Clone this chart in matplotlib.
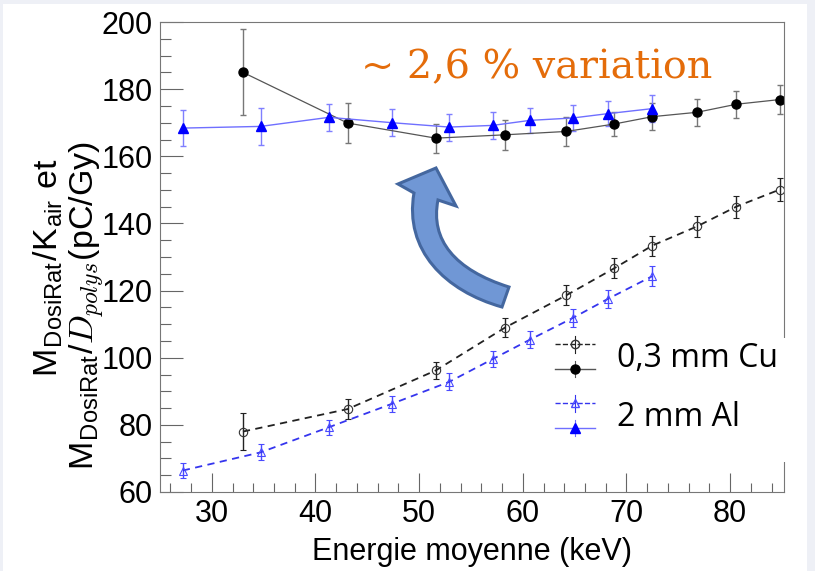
import numpy as np
import matplotlib
matplotlib.use("Agg")
import matplotlib.pyplot as plt
from matplotlib.lines import Line2D
from matplotlib.patches import Rectangle, PathPatch
from matplotlib.path import Path
from matplotlib.legend_handler import HandlerBase
from matplotlib.ticker import MultipleLocator

# 0,3 mm Cu filtration
energy_cu = [33.0, 43.1, 51.6, 58.3, 64.2, 68.8, 72.5, 76.8, 80.6, 84.8]
kair_cu = [185.0, 169.9, 165.4, 166.4, 167.4, 169.6, 171.8, 173.1, 175.5, 176.9]
kair_cu_err = [12.8, 6.0, 4.3, 4.4, 4.3, 3.7, 4.0, 4.0, 4.0, 4.2]
dpoly_cu = [78.0, 84.7, 96.2, 109.0, 118.6, 126.6, 133.4, 139.1, 145.0, 150.1]
dpoly_cu_err = [5.5, 3.0, 2.6, 2.9, 3.0, 3.0, 3.0, 3.2, 3.3, 3.5]

# 2 mm Al filtration
energy_al = [27.2, 34.7, 41.3, 47.4, 52.9, 57.1, 60.7, 64.8, 68.2, 72.5]
kair_al = [168.4, 168.9, 171.6, 170.0, 168.7, 169.2, 170.7, 171.4, 172.7, 174.2]
kair_al_err = [5.4, 5.5, 4.0, 4.0, 4.0, 4.0, 3.8, 4.0, 3.8, 4.0]
dpoly_al = [66.4, 71.8, 79.3, 86.3, 92.8, 99.6, 105.4, 111.8, 117.5, 124.3]
dpoly_al_err = [2.3, 2.4, 2.2, 2.4, 2.5, 2.5, 2.6, 2.7, 2.8, 3.0]

legend_labels = ["0,3 mm Cu", "2 mm Al"]

W, H = 815, 571


def px(x, y):
    """pixel position (y down) -> figure fraction"""
    return x / W, 1 - y / H


class HandlerStack(HandlerBase):
    """draws a tuple of lines as stacked rows, each with a small error tick"""

    def create_artists(self, legend, orig_handle, xdescent, ydescent,
                       width, height, fontsize, trans):
        artists = []
        n = len(orig_handle)
        xc = width / 2 - xdescent
        for i, h in enumerate(orig_handle):
            yc = height * (n - i - 0.5) / n - ydescent
            line = Line2D([-xdescent, width - xdescent], [yc, yc],
                          color=h.get_color(), ls=h.get_linestyle(),
                          lw=h.get_linewidth())
            bar = Line2D([xc, xc], [yc - 0.17 * height, yc + 0.17 * height],
                         color=h.get_color(), lw=0.8)
            mk = Line2D([xc], [yc], marker=h.get_marker(),
                        ms=h.get_markersize(), mfc=h.get_markerfacecolor(),
                        mec=h.get_markeredgecolor(), ls="none")
            for a in (line, bar, mk):
                a.set_transform(trans)
                artists.append(a)
        return artists


def main():
    plt.rcParams["font.family"] = ["Liberation Sans", "DejaVu Sans"]
    plt.rcParams["mathtext.fontset"] = "custom"
    plt.rcParams["mathtext.rm"] = "Liberation Sans"
    plt.rcParams["mathtext.it"] = "cmmi10"

    fig = plt.figure(figsize=(W / 100, H / 100), dpi=100, facecolor="#eef0f6")
    fig.add_artist(Rectangle(px(3, 571), 804 / W, 567 / H,
                             transform=fig.transFigure, facecolor="white",
                             edgecolor="none", zorder=-1))

    l, b = px(160, 492)
    r, t = px(784, 22)
    ax = fig.add_axes([l, b, r - l, t - b])

    # M/Kair, filled markers, solid lines
    ax.errorbar(energy_cu, kair_cu, yerr=kair_cu_err, color="#555555", lw=0.9,
                ecolor="#777777", elinewidth=1.0, capsize=2.5,
                marker="o", ms=6.5, mfc="black", mec="black")
    ax.errorbar(energy_al, kair_al, yerr=kair_al_err, color="#6f6fff", lw=1.0,
                ecolor="#7f7fff", elinewidth=1.0, capsize=2.5,
                marker="^", ms=6.5, mfc="#0000ff", mec="#0000ff")

    # M/Dpolys, open markers, dashed lines
    ax.errorbar(energy_cu, dpoly_cu, yerr=dpoly_cu_err, color="#222222", lw=1.3,
                ls=(0, (4, 3)), ecolor="#222222", elinewidth=1.0, capsize=2,
                marker="o", ms=6, mfc="none", mec="#333333", mew=0.8)
    ax.errorbar(energy_al, dpoly_al, yerr=dpoly_al_err, color="#3535ee", lw=1.3,
                ls=(0, (4, 3)), ecolor="#4a4aff", elinewidth=1.0, capsize=2,
                marker="^", ms=6, mfc="none", mec="#4a4aff", mew=0.8)

    ax.set_xlim(25, 85.2)
    ax.set_ylim(60, 200)
    ax.xaxis.set_major_locator(MultipleLocator(10))
    ax.xaxis.set_minor_locator(MultipleLocator(2))
    ax.yaxis.set_major_locator(MultipleLocator(20))
    ax.yaxis.set_minor_locator(MultipleLocator(5))
    ax.tick_params(which="both", direction="in", color="#666666", width=0.8,
                   labelsize=22, pad=5, top=False, right=False)
    ax.tick_params(axis="y", which="major", length=16.5)
    ax.tick_params(axis="y", which="minor", length=8)
    ax.tick_params(axis="x", which="major", length=13.5)
    ax.tick_params(axis="x", which="minor", length=6.5)
    for s in ax.spines.values():
        s.set_color("#777777")
        s.set_linewidth(0.8)

    ax.set_xlabel("Energie moyenne (keV)", fontsize=22, labelpad=6)
    fig.text(*px(48, 268), r"M$_{\mathrm{DosiRat}}$/K$_{\mathrm{air}}$ et",
             rotation=90, ha="center", va="center", fontsize=24.5)
    fig.text(*px(87, 306), r"M$_{\mathrm{DosiRat}}$/$D_{polys}$(pC/Gy)",
             rotation=90, ha="center", va="center", fontsize=24.5)

    fig.text(*px(361, 78), "~ 2,6 % variation", color="#e46c0a",
             family="DejaVu Serif", fontsize=28.5, va="baseline")

    # curved block arrow pointing back up to the flat curves
    verts = [(398, 184), (436, 168), (456, 206), (438, 200),
             (430, 240), (455, 270), (509, 287),
             (502, 307),
             (445, 291), (404, 250), (414, 193),
             (398, 184)]
    codes = [Path.MOVETO, Path.LINETO, Path.LINETO, Path.LINETO,
             Path.CURVE4, Path.CURVE4, Path.CURVE4,
             Path.LINETO,
             Path.CURVE4, Path.CURVE4, Path.CURVE4,
             Path.CLOSEPOLY]
    arrow = PathPatch(Path([px(x, y) for x, y in verts], codes),
                      transform=fig.transFigure, facecolor="#7097d5",
                      edgecolor="#44679f", lw=2.2, zorder=3)
    fig.add_artist(arrow)

    # legend on a white panel that spills over the frame
    fig.add_artist(Rectangle(px(552, 462), 255 / W, 124 / H,
                             transform=fig.transFigure, facecolor="white",
                             edgecolor="none", zorder=4))
    cu_open = Line2D([], [], color="#222222", ls=(0, (4, 3)), lw=1.0,
                     marker="o", ms=6, mfc="none", mec="#333333")
    cu_full = Line2D([], [], color="#555555", lw=1.0, marker="o", ms=6.5,
                     mfc="black", mec="black")
    al_open = Line2D([], [], color="#3535ee", ls=(0, (4, 3)), lw=1.0,
                     marker="^", ms=6, mfc="none", mec="#4a4aff")
    al_full = Line2D([], [], color="#6f6fff", lw=1.0, marker="^", ms=6.5,
                     mfc="#0000ff", mec="#0000ff")
    leg = fig.legend([(cu_open, cu_full), (al_open, al_full)], legend_labels,
                     handler_map={tuple: HandlerStack()},
                     loc="upper left", bbox_to_anchor=px(555, 332),
                     frameon=False, prop={"family": "Open Sans", "size": 23},
                     handlelength=1.25, handleheight=2.0, handletextpad=0.7,
                     labelspacing=0.3, borderaxespad=0, borderpad=0)
    leg.set_zorder(5)

    plt.savefig("out.png", dpi=100, facecolor=fig.get_facecolor())


if __name__ == "__main__":
    main()
